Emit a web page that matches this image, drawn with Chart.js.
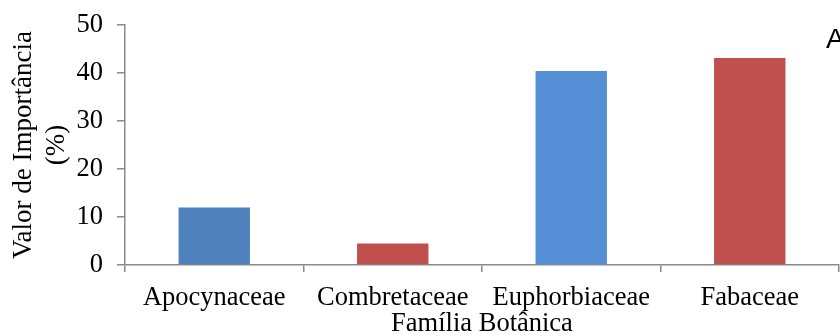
<!DOCTYPE html>
<html>
<head>
<meta charset="utf-8">
<script src="https://cdn.jsdelivr.net/npm/chart.js@4"></script>
<style>
  body { margin: 0; background: #fff; }
  canvas { display: block; }
</style>
</head>
<body>
<canvas id="vi" width="840" height="336"></canvas>
<script>
const families = ['Apocynaceae', 'Combretaceae', 'Euphorbiaceae', 'Fabaceae'];
const importance = [12, 4.5, 40.4, 43.1];
const yTitle = ['Valor de Importância', '(%)'];
const xTitle = 'Família Botânica';
const panelLetter = 'A';

const barColors = ['#4F81BD', '#C0504D', '#558ED5', '#C0504D'];
const axisColor = '#8a8a8a';
const serif = "'Liberation Serif', 'Times New Roman', serif";

// the "A" in the top right corner
const panelLabel = {
    id: 'panelLabel',
    afterDraw(chart) {
        const ctx = chart.ctx;
        ctx.save();
        ctx.font = "28px 'Liberation Sans', Arial, sans-serif";
        ctx.fillStyle = '#000';
        ctx.textBaseline = 'alphabetic';
        ctx.fillText(panelLetter, 826, 48);
        ctx.restore();
    }
};

const ctx = document.getElementById('vi').getContext('2d');
new Chart(ctx, {
    type: 'bar',
    data: {
        labels: families,
        datasets: [{
            data: importance,
            backgroundColor: barColors,
            borderWidth: 0,
            categoryPercentage: 0.4,
            barPercentage: 1
        }]
    },
    options: {
        responsive: false,
        animation: false,
        layout: { padding: { top: 25, right: 1, left: 0, bottom: 0 } },
        plugins: {
            legend: { display: false },
            tooltip: { enabled: false }
        },
        scales: {
            x: {
                afterFit: s => { s.height = 71; },
                grid: { drawOnChartArea: false, drawTicks: true, tickLength: 7, color: axisColor, lineWidth: 1.5 },
                border: { display: true, color: axisColor, width: 1.5 },
                ticks: { color: '#000', padding: 10, font: { family: serif, size: 26.5 } },
                title: {
                    display: true, text: xTitle, color: '#000',
                    padding: { top: 0, bottom: -4 },
                    font: { family: serif, size: 26.5, lineHeight: 1.2 }
                }
            },
            y: {
                min: 0, max: 50,
                afterFit: s => { s.width = 125; s.paddingTop = 0; s.paddingBottom = 0; },
                grid: { drawOnChartArea: false, drawTicks: true, tickLength: 8, color: axisColor, lineWidth: 1.5 },
                border: { display: true, color: axisColor, width: 1.5 },
                ticks: { stepSize: 10, color: '#000', padding: 14, font: { family: serif, size: 26.5 } },
                title: {
                    display: true, text: yTitle, color: '#000',
                    padding: { top: 8, bottom: 0 },
                    font: { family: serif, size: 27, lineHeight: 1.2 }
                }
            }
        }
    },
    plugins: [panelLabel]
});
</script>
</body>
</html>
